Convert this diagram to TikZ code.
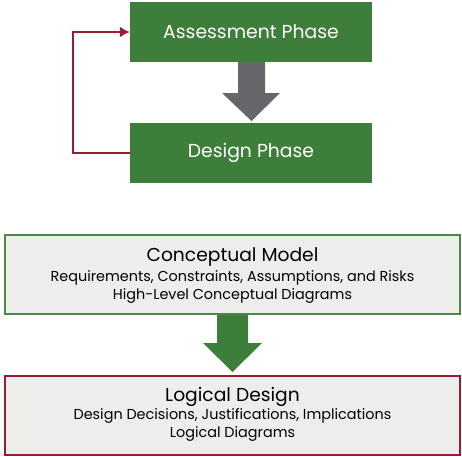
\documentclass[tikz,border=0pt]{standalone}
\usepackage{fontspec}
\usetikzlibrary{arrows.meta}
\setmainfont{Poppins}
\definecolor{pgreen}{HTML}{3C7E3A}
\definecolor{bgreen}{HTML}{4A8A46}
\definecolor{agray}{HTML}{66676B}
\definecolor{dred}{HTML}{9A1C33}
\definecolor{lgray}{HTML}{EDEDEB}
\begin{document}
\begin{tikzpicture}[x=1pt,y=-1pt,
  phase/.style={fill=pgreen,draw=none,text=white,minimum width=242pt,minimum height=60pt,inner sep=0pt,font=\fontsize{18.8}{22}\selectfont},
  bigbox/.style={fill=lgray,line width=2pt,minimum width=455pt,minimum height=79pt,inner sep=0pt,align=center},
  title/.style={font=\fontsize{18.7}{22}\selectfont},
  sub/.style={font=\fontsize{14.4}{18}\selectfont}]
\useasboundingbox (0,0) rectangle (462,456);
\node[phase] (assess) at (251,32) {Assessment Phase};
\node[phase] (design) at (251,153) {Design Phase};
% gray block arrow
\fill[agray] (238,62) -- (265,62) -- (265,93) -- (280,93) -- (251.5,121) -- (222,93) -- (238,93) -- cycle;
% red feedback
\coordinate (fb1) at (73,153);
\coordinate (fb2) at (73,32);
\draw[dred,line width=2.2pt,-{Latex[length=10pt,width=11pt]}] (design.west) -- (fb1) -- (fb2) -- (assess.west);
\node[bigbox,draw=bgreen] (concept) at (232.5,274) {};
\node[title] (ct) at (232.5,257) {Conceptual Model};
\node[sub] (c1) at (232.5,277.5) {Requirements, Constraints, Assumptions, and Risks};
\node[sub] (c2) at (232.5,295.5) {High-Level Conceptual Diagrams};
% green block arrow
\fill[pgreen] (217,315) -- (248,315) -- (248,343) -- (262,343) -- (232.5,372) -- (203,343) -- (217,343) -- cycle;
\node[bigbox,draw=dred] (logic) at (232.5,415) {};
\node[title] (lt) at (232.5,397) {Logical Design};
\node[sub] (l1) at (232.5,416) {Design Decisions, Justifications, Implications};
\node[sub] (l2) at (232.5,434) {Logical Diagrams};
\end{tikzpicture}
\end{document}
